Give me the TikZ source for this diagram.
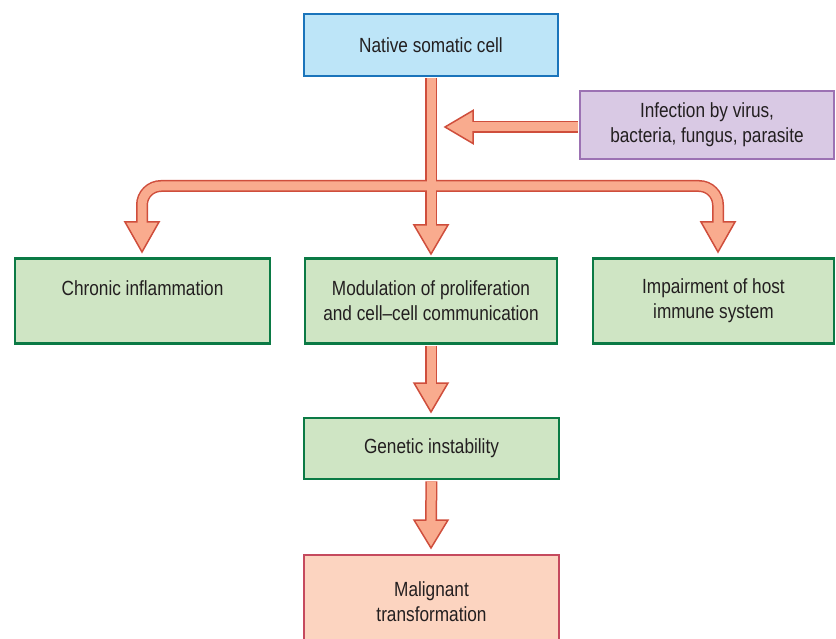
\documentclass[tikz,border=0pt]{standalone}
\usepackage{fontspec}
\setmainfont[FakeStretch=0.84]{Liberation Sans}
\definecolor{txt}{HTML}{231F20}
\definecolor{bluefill}{HTML}{BDE5F8}
\definecolor{blueline}{HTML}{1A74BB}
\definecolor{purplefill}{HTML}{D9C9E4}
\definecolor{purpleline}{HTML}{9C72B3}
\definecolor{greenfill}{HTML}{CFE5C4}
\definecolor{greenline}{HTML}{0B7A45}
\definecolor{redfill}{HTML}{FCD4C0}
\definecolor{redline}{HTML}{C54A5E}
\definecolor{arrfill}{HTML}{F9AB8E}
\definecolor{arrline}{HTML}{CF4E3C}
\begin{document}
\begin{tikzpicture}[x=1pt,y=-1pt,
  box/.style={draw, line width=2.4pt, align=center, inner sep=0pt,
    font=\fontsize{20.5}{25}\selectfont, text=txt},
  bluebox/.style={box, draw=blueline, fill=bluefill},
  purplebox/.style={box, draw=purpleline, fill=purplefill},
  greenbox/.style={box, draw=greenline, fill=greenfill},
  redbox/.style={box, draw=redline, fill=redfill},
  shaftout/.style={draw=arrline, line width=12pt, shorten <=1.2pt},
  shaftin/.style={draw=arrfill, line width=9pt, shorten <=1.2pt, shorten >=-3pt},
  headbox/.style={fill=arrfill, draw=arrline, line width=1.5pt, line join=miter}]
\useasboundingbox (0,0) rectangle (836,639);
\clip (0,0) rectangle (836,639);
% boxes
\node[bluebox, minimum width=254pt, minimum height=62pt] (native) at (431,45) {Native somatic cell};
\node[purplebox, minimum width=254pt, minimum height=68pt] (infect) at (707,125) {Infection by virus,\\bacteria, fungus, parasite};
\node[greenbox, minimum width=255pt, minimum height=85pt] (chronic) at (142.5,301) {Chronic inflammation\\\mbox{}};
\node[greenbox, minimum width=252pt, minimum height=85pt] (modul) at (431,301) {Modulation of proliferation\\and cell–cell communication};
\node[greenbox, minimum width=241pt, minimum height=85pt] (impair) at (713.5,301) {Impairment of host\\immune system};
\node[greenbox, minimum width=255pt, minimum height=61pt] (genetic) at (431.5,448.5) {Genetic instability};
\node[redbox, minimum width=255pt, minimum height=94pt] (malig) at (431.5,602) {Malignant\\transformation};
% connector points
\coordinate (hub) at (431,186);
\coordinate (mainbase) at (431,225);
\coordinate (lbase) at (142,222);
\coordinate (rbase) at (718,222);
\coordinate (ibase) at (473,127);
\coordinate (m1base) at (431,383);
\coordinate (m2base) at (431,520);
% shaft outlines
\draw[shaftout] (native.south) -- (mainbase);
\draw[shaftout, rounded corners=19pt] (lbase) -- (lbase|-hub) -- (rbase|-hub) -- (rbase);
\draw[shaftout] (infect.west|-ibase) -- (ibase);
\draw[shaftout] (modul.south) -- (m1base);
\draw[shaftout] (genetic.south) -- (m2base);
% heads
\filldraw[headbox] (mainbase) ++(-17,0) -- ++(34,0) -- ++(-17,29) -- cycle;
\filldraw[headbox] (lbase) ++(-17,0) -- ++(34,0) -- ++(-17,30) -- cycle;
\filldraw[headbox] (rbase) ++(-17,0) -- ++(34,0) -- ++(-17,30) -- cycle;
\filldraw[headbox] (ibase) ++(0,-16.5) -- ++(0,33) -- ++(-28,-16.5) -- cycle;
\filldraw[headbox] (m1base) ++(-17,0) -- ++(34,0) -- ++(-17,29) -- cycle;
\filldraw[headbox] (m2base) ++(-17,0) -- ++(34,0) -- ++(-17,28) -- cycle;
% shaft fills
\draw[shaftin] (native.south) -- (mainbase);
\draw[shaftin, shorten <=-3pt, rounded corners=19pt] (lbase) -- (lbase|-hub) -- (rbase|-hub) -- (rbase);
\draw[shaftin] (infect.west|-ibase) -- (ibase);
\draw[shaftin] (modul.south) -- (m1base);
\draw[shaftin] (genetic.south) -- (m2base);
\end{tikzpicture}
\end{document}
